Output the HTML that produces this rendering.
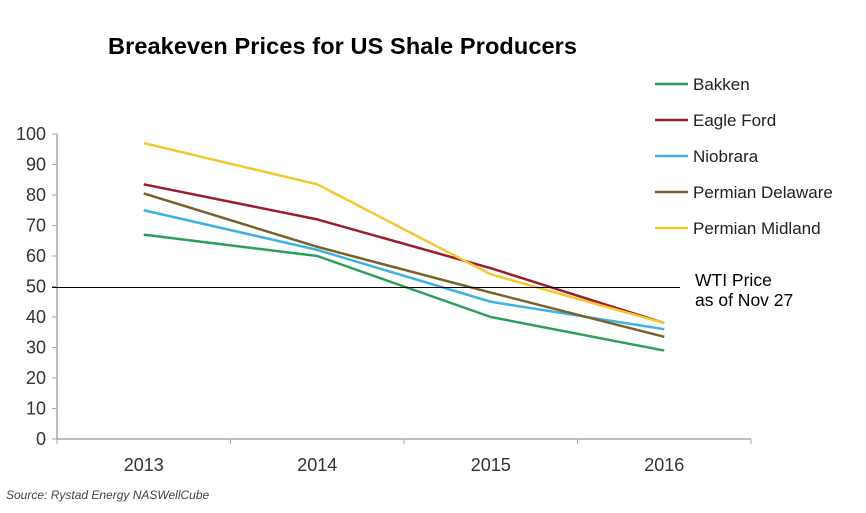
<!DOCTYPE html>
<html><head><meta charset="utf-8"><style>
body{margin:0;background:#fff;width:866px;height:513px;overflow:hidden}
svg{display:block;font-family:"Liberation Sans",Arial,sans-serif}
</style></head><body>
<svg id="c" width="866" height="513">
<text x="108" y="54" font-size="23.5" font-weight="bold" fill="#000" textLength="469">Breakeven Prices for US Shale Producers</text>
<g id="axes"></g>
<g id="lines"></g>
<g id="legend"></g>
<line x1="52" x2="680" y1="287.5" y2="287.5" stroke="#000" stroke-width="1"/>
<text x="695" y="286" font-size="17.5" fill="#000">WTI Price</text>
<text x="695" y="306" font-size="17.5" fill="#000">as of Nov 27</text>
<text x="6" y="499" font-size="12" font-style="italic" fill="#444">Source: Rystad Energy NASWellCube</text>
</svg>
<script>
const categories=["2013","2014","2015","2016"];
const yTicks=[0,10,20,30,40,50,60,70,80,90,100];
const seriesNames=["Bakken","Eagle Ford","Niobrara","Permian Delaware","Permian Midland"];
const bakken=[67,60,40,29];
const eagleFord=[83.5,72,56,38];
const niobrara=[75,62,45,36];
const permianDelaware=[80.5,63,48,33.5];
const permianMidland=[97,83.5,54,38];
const colors=["#2e9e5b","#9b1c2a","#3cb4e0","#7a6128","#f2c830"];
const NS="http://www.w3.org/2000/svg";
const x0=57,x1=751,yb=439,yt=134;
const band=(x1-x0)/categories.length;
const xS=i=>x0+band*(i+0.5);
const yS=v=>yb-(v/100)*(yb-yt);
function mk(t,a,p){const e=document.createElementNS(NS,t);for(const k in a)e.setAttribute(k,a[k]);p.appendChild(e);return e;}
const ax=document.getElementById('axes');
let e=mk('line',{x1:x0,x2:x0,y1:yt,y2:yb,stroke:'#aaa','stroke-width':1.5},ax);


e=mk('line',{x1:x0,x2:x1,y1:yb,y2:yb,stroke:'#aaa','stroke-width':1.5},ax);


yTicks.forEach(v=>{
 mk('line',{x1:x0-5,x2:x0,y1:yS(v),y2:yS(v),stroke:'#aaa'},ax);
 const t=mk('text',{x:x0-11,y:yS(v)+6,'text-anchor':'end','font-size':18,fill:'#333'},ax);
 t.textContent=v;
 
 
});
for(let i=0;i<=categories.length;i++){mk('line',{x1:x0+band*i,x2:x0+band*i,y1:yb,y2:yb+5,stroke:'#aaa'},ax);}
categories.forEach((c,i)=>{
 const t=mk('text',{x:xS(i),y:471,'text-anchor':'middle','font-size':18,fill:'#333'},ax);
 t.textContent=c;
 
 
});
const data=[bakken,eagleFord,niobrara,permianDelaware,permianMidland];
const lg=document.getElementById('lines');
const leg=document.getElementById('legend');
data.forEach((d,s)=>{
 const p=mk('polyline',{points:d.map((v,i)=>xS(i)+','+yS(v)).join(' '),fill:'none',stroke:colors[s],'stroke-width':2.5,'stroke-linejoin':'round'},lg);
 
 
 const y=84+s*36;
 const g=mk('g',{},leg);
 
 
 mk('line',{x1:655,x2:688,y1:y,y2:y,stroke:colors[s],'stroke-width':2.5},g);
 const t=mk('text',{x:693,y:y+6,'font-size':17,fill:'#222'},g);
 t.textContent=seriesNames[s];
});
</script>
</body></html>
